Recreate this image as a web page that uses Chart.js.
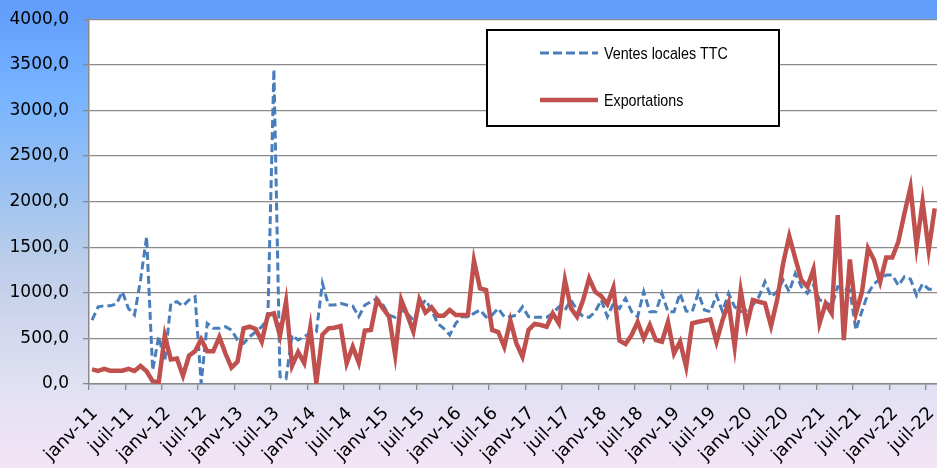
<!DOCTYPE html>
<html>
<head>
<meta charset="utf-8">
<script src="https://cdn.jsdelivr.net/npm/chart.js@4/dist/chart.umd.min.js"></script>
<style>
  html, body { margin: 0; padding: 0; }
  #wrap {
    width: 937px; height: 468px; position: relative; overflow: hidden;
    background: linear-gradient(to bottom, #609cfa 0%, #78b4ff 21%, #a0c4f0 43%, #bccde9 56%, #d2d7ee 70%, #e1e1f3 83%, #f3e4f5 100%);
  }
  canvas { display: block; margin-top: -5px; }
</style>
</head>
<body>
<div id="wrap"><canvas id="chart" width="963" height="473"></canvas></div>
<script>
// monthly series, janv-11 .. août-22 (the original picture is cut on the right)
const monthNames = ['janv', 'févr', 'mars', 'avr', 'mai', 'juin', 'juil', 'août', 'sept', 'oct', 'nov', 'déc'];
const years = ['11', '12', '13', '14', '15', '16', '17', '18', '19', '20', '21', '22'];
const nbMonths = 140;

const ventesLocales = [
    701, 847, 858, 858, 876, 1012, 829, 756, 1140, 1614,
    150, 520, 250, 884, 902, 855, 921, 957, 5, 665,
    610, 610, 628, 592, 482, 446, 519, 573, 628, 720,
    3450, 80, 60, 537, 482, 518, 560, 573, 1104, 866,
    866, 884, 866, 855, 738, 866, 902, 939, 866, 756,
    731, 811, 775, 701, 829, 921, 811, 665, 610, 537,
    665, 738, 738, 775, 811, 735, 756, 829, 738, 738,
    756, 847, 738, 731, 731, 731, 775, 847, 811, 921,
    811, 738, 731, 793, 921, 738, 884, 829, 939, 793,
    738, 1012, 793, 793, 994, 793, 793, 994, 800, 793,
    1000, 811, 793, 975, 793, 994, 847, 793, 811, 866,
    957, 1121, 957, 1012, 1140, 1012, 1213, 1067, 994, 1085,
    921, 902, 847, 1067, 1048, 1030, 592, 800, 994, 1100,
    1150, 1195, 1195, 1080, 1176, 1150, 970, 1100, 1040, 1040
];

const exportations = [
    160, 143, 165, 146, 146, 146, 165, 143, 197, 140,
    30, 20, 530, 270, 280, 90, 310, 360, 490, 360,
    360, 515, 336, 180, 245, 610, 628, 603, 464, 756,
    775, 530, 902, 200, 350, 230, 620, 10, 540, 610,
    617, 636, 226, 408, 234, 585, 592, 921, 830, 738,
    318, 921, 756, 574, 928, 782, 840, 749, 749, 811,
    756, 756, 756, 1352, 1048, 1030, 592, 570, 408, 698,
    445, 299, 592, 658, 647, 628, 775, 665, 1140, 830,
    738, 921, 1158, 1012, 964, 877, 1056, 475, 438, 537,
    680, 501, 647, 482, 464, 680, 336, 464, 190, 665,
    683, 695, 709, 464, 701, 891, 409, 1023, 636, 921,
    902, 884, 636, 921, 1323, 1622, 1377, 1140, 1067, 1257,
    665, 884, 775, 1852, 482, 1366, 775, 1012, 1487, 1359,
    1121, 1388, 1388, 1560, 1870, 2156, 1512, 1998, 1469, 1925
];

const labels = years.flatMap(y => monthNames.map(m => m + '-' + y)).slice(0, nbMonths);

const gridGray = '#8a8a8a';

// white plot area
const plotBg = {
    id: 'plotBg',
    beforeDraw(chart) {
        const { ctx, chartArea: a } = chart;
        ctx.save();
        ctx.fillStyle = '#ffffff';
        ctx.fillRect(a.left, a.top, a.right - a.left, a.bottom - a.top);
        ctx.restore();
    }
};

// boxed legend inside the plot, like the original (canvas is shifted up 5px)
const legendBox = {
    id: 'legendBox',
    afterDraw(chart) {
        const ctx = chart.ctx;
        const dy = 5;
        ctx.save();
        ctx.fillStyle = '#ffffff';
        ctx.fillRect(487, 30 + dy, 292, 96);
        ctx.strokeStyle = '#000000';
        ctx.lineWidth = 2;
        ctx.strokeRect(487, 30 + dy, 292, 96);
        const rows = [53 + dy, 100 + dy];
        chart.data.datasets.forEach((ds, i) => {
            const y = rows[i];
            ctx.beginPath();
            ctx.strokeStyle = ds.borderColor;
            ctx.lineWidth = ds.borderWidth;
            ctx.setLineDash(ds.borderDash ? [9, 4] : []);
            ctx.lineCap = 'butt';
            ctx.moveTo(540, y);
            ctx.lineTo(598, y);
            ctx.stroke();
            ctx.setLineDash([]);
            // narrow text: squeeze the font a bit
            ctx.save();
            ctx.translate(604, y + 1);
            ctx.scale(0.84, 1);
            ctx.fillStyle = '#000000';
            ctx.font = '17px "Liberation Sans", sans-serif';
            ctx.textBaseline = 'middle';
            ctx.textAlign = 'left';
            ctx.fillText(ds.label, 0, 0);
            ctx.restore();
        });
        ctx.restore();
    }
};

const ctx = document.getElementById('chart').getContext('2d');
new Chart(ctx, {
    type: 'line',
    data: {
        labels: labels,
        datasets: [{
            label: 'Ventes locales TTC',
            data: ventesLocales,
            borderColor: '#4a7ebb',
            borderWidth: 3,
            borderDash: [8, 4],
            pointRadius: 0,
            tension: 0,
            fill: false,
            order: 1
        }, {
            label: 'Exportations',
            data: exportations,
            borderColor: '#c0504d',
            borderWidth: 4.5,
            pointRadius: 0,
            tension: 0,
            fill: false,
            order: 0
        }]
    },
    options: {
        responsive: false,
        animation: false,
        layout: { padding: { top: 9, right: 0, left: 0, bottom: 0 } },
        plugins: {
            legend: { display: false },
            tooltip: { enabled: false }
        },
        scales: {
            x: {
                offset: true,
                grid: {
                    offset: true,
                    drawOnChartArea: false,
                    drawTicks: true,
                    tickLength: 6,
                    lineWidth: 1.3,
                    color: c => (c.index % 6 === 0 ? gridGray : 'rgba(0,0,0,0)')
                },
                border: { color: gridGray, width: 1.5 },
                ticks: {
                    autoSkip: false,
                    minRotation: 45,
                    maxRotation: 45,
                    padding: 13,
                    labelOffset: 3,
                    color: '#000000',
                    font: { family: '"DejaVu Sans", sans-serif', size: 18 },
                    callback: function (val, idx) {
                        return idx % 6 === 0 ? this.getLabelForValue(val) : '';
                    }
                },
                afterFit: scale => { scale.height = 84; }
            },
            y: {
                min: 0,
                max: 4000,
                grid: {
                    color: gridGray,
                    lineWidth: 1.3,
                    tickLength: 6
                },
                border: { color: gridGray, width: 1.5 },
                ticks: {
                    stepSize: 500,
                    padding: 14,
                    color: '#000000',
                    font: { family: '"DejaVu Sans", sans-serif', size: 17 },
                    callback: v => v.toFixed(1).replace('.', ',')
                },
                afterFit: scale => { scale.width = 89; }
            }
        }
    },
    plugins: [plotBg, legendBox]
});
</script>
</body>
</html>
